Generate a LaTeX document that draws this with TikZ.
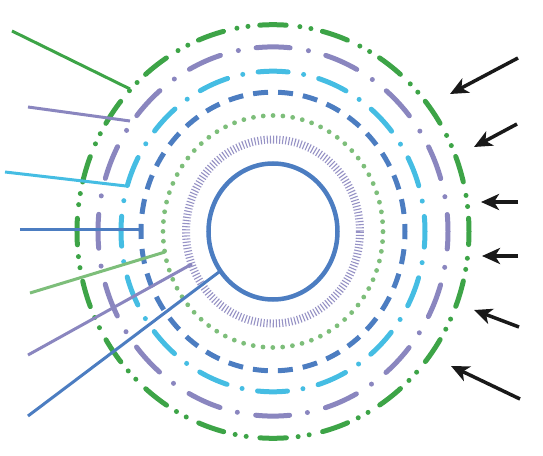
\documentclass[tikz,border=0pt]{standalone}
\usepackage{xcolor}
\usepackage{tikz}
\usetikzlibrary{arrows.meta}

\definecolor{ringgreen}{RGB}{61,164,71}
\definecolor{ringpurple}{RGB}{138,134,191}
\definecolor{ringcyan}{RGB}{69,189,227}
\definecolor{ringblue}{RGB}{76,125,193}
\definecolor{dotgreen}{RGB}{125,190,122}

\begin{document}
\begin{tikzpicture}[x=1pt, y=1pt,
    ring/.style={line width=5pt, line cap=round},
    pointer/.style={line width=3pt},
    push/.style={line width=3.5pt, black!90, -{Stealth[length=18pt, width=16pt, inset=5pt]}}]
                \useasboundingbox (-273,-223.5) rectangle (270,231.5);
                \coordinate (O) at (0,0);

                % Rings, outside in
                \draw[ring, ringgreen, dash pattern=on 26.5pt off 11.8pt on 0pt off 11.2pt on 0pt off 13.8pt, dash phase=13.25pt]
                    (O) ellipse [x radius=196pt, y radius=206.8pt];
                \draw[ring, ringpurple, dash pattern=on 34pt off 18pt on 0pt off 18.6pt, dash phase=17pt]
                    (O) ellipse [x radius=175pt, y radius=184.6pt];
                \draw[ring, ringcyan, dash pattern=on 30pt off 15.6pt on 0pt off 15.7pt, dash phase=15pt]
                    (O) ellipse [x radius=152pt, y radius=160.3pt];
                \draw[line width=5pt, ringblue, dash pattern=on 15pt off 10.07pt, dash phase=7.5pt]
                    (O) ellipse [x radius=132pt, y radius=139.3pt];
                \draw[line width=4.8pt, line cap=round, dotgreen, dash pattern=on 0pt off 9.86pt]
                    (O) ellipse [x radius=110pt, y radius=116pt];
                \draw[line width=8pt, ringpurple!90, dash pattern=on 1.1pt off 2pt]
                    (O) ellipse [x radius=87pt, y radius=92pt];
                \draw[line width=4.5pt, ringblue] (O) ellipse [x radius=64.5pt, y radius=68pt];

                % Pointers on the left
                \coordinate (gA) at (-261,200.5);  \coordinate (gB) at (-143,142.5);
                \coordinate (pA) at (-245,124.5);  \coordinate (pB) at (-143,110.5);
                \coordinate (cA) at (-268,59.5);   \coordinate (cB) at (-147,45.5);
                \coordinate (bA) at (-253,2);      \coordinate (bB) at (-132,2);
                \coordinate (dA) at (-243,-61.5);  \coordinate (dB) at (-108,-20.5);
                \coordinate (hA) at (-245,-123.5); \coordinate (hB) at (-81,-32.5);
                \coordinate (iA) at (-245,-184.5); \coordinate (iB) at (-54,-40.5);
                \draw[pointer, ringgreen] (gA) -- (gB);
                \draw[pointer, ringpurple] (pA) -- (pB);
                \draw[pointer, ringcyan] (cA) -- (cB);
                \draw[pointer, ringblue] (bA) -- (bB);
                \draw[pointer, dotgreen] (dA) -- (dB);
                \draw[pointer, ringpurple] (hA) -- (hB);
                \draw[pointer, ringblue] (iA) -- (iB);

                % Incoming arrows on the right
                \coordinate (a1) at (245,173.5);  \coordinate (t1) at (177,137.5);
                \coordinate (a2) at (244,107.5);  \coordinate (t2) at (201,84.5);
                \coordinate (a3) at (245,29.5);   \coordinate (t3) at (208,29.5);
                \coordinate (a4) at (245,-24.5);  \coordinate (t4) at (209,-24.5);
                \coordinate (a5) at (246,-95.5);  \coordinate (t5) at (201,-78.5);
                \coordinate (a6) at (247,-167.5); \coordinate (t6) at (178,-134.5);
                \foreach \i in {1,...,6}
                    \draw[push] (a\i) -- (t\i);
            \end{tikzpicture}
\end{document}
